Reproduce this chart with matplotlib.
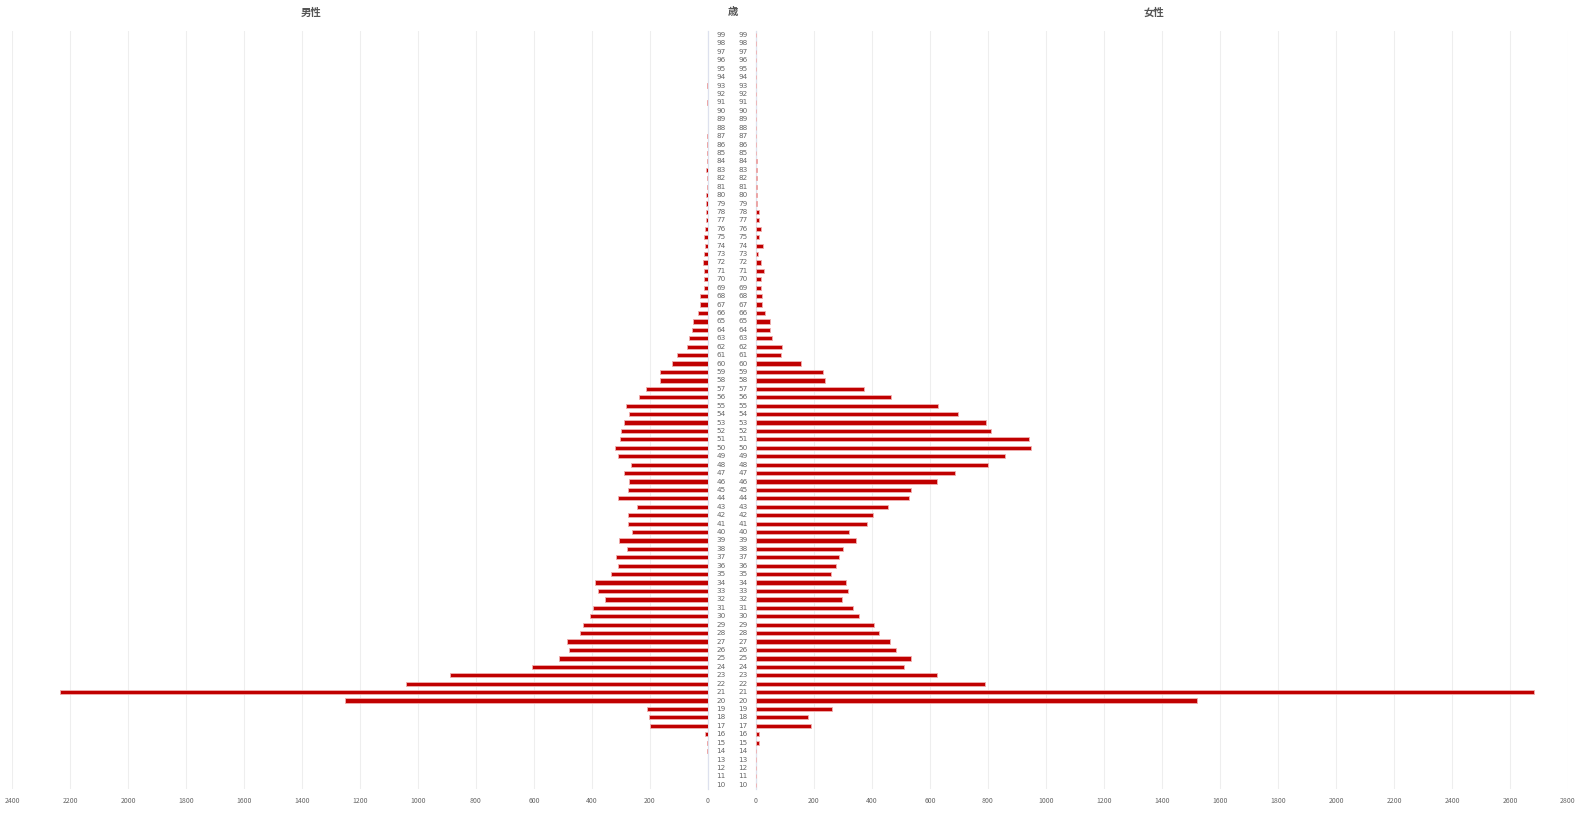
import matplotlib
matplotlib.use("Agg")
import matplotlib.pyplot as plt
import matplotlib.transforms as mtransforms
import numpy as np

plt.rcParams['font.family'] = ['Noto Sans CJK JP', 'DejaVu Sans']

ages = list(range(10, 100))

male = [0, 0, 0, 0, 4, 4, 12, 201, 205, 210,
        1250, 2233, 1040, 891, 607, 513, 479, 486, 442, 432,
        406, 397, 356, 380, 390, 334, 311, 317, 279, 307,
        261, 276, 276, 246, 310, 276, 274, 289, 264, 312,
        320, 305, 300, 291, 272, 282, 239, 214, 167, 167,
        125, 108, 74, 67, 54, 52, 36, 26, 29, 15,
        15, 14, 18, 14, 12, 15, 10, 8, 7, 8,
        7, 2, 5, 7, 3, 4, 3, 3, 0, 0,
        0, 2, 0, 2, 0, 0, 0, 0, 0, 0]

female = [1, 0, 0, 1, 1, 9, 11, 189, 178, 262,
          1521, 2683, 790, 625, 511, 533, 482, 462, 423, 406,
          356, 334, 297, 316, 309, 259, 276, 285, 300, 346,
          322, 384, 402, 456, 526, 536, 623, 687, 800, 859,
          949, 941, 811, 794, 695, 629, 465, 374, 238, 231,
          154, 87, 88, 56, 48, 49, 31, 20, 21, 16,
          16, 27, 16, 6, 23, 12, 16, 10, 9, 4,
          5, 3, 3, 5, 3, 1, 1, 1, 1, 0,
          0, 0, 0, 1, 0, 0, 0, 0, 0, 0]

left_ticks = list(range(0, 2401, 200))
right_ticks = list(range(0, 2801, 200))

title_male = "男性"
title_age = "歳"
title_female = "女性"

W, H = 1582, 817
fig = plt.figure(figsize=(W / 100, H / 100), dpi=100)
fig.patch.set_facecolor('white')

top_px, bot_px = 30.8, 789.0
ax_b = 1 - bot_px / H
ax_h = (bot_px - top_px) / H

axL = fig.add_axes([12 / W, ax_b, (708 - 12) / W, ax_h])
axR = fig.add_axes([756 / W, ax_b, (1568 - 756) / W, ax_h])

bar_color = '#c00000'
edge_color = '#f0b0b0'

for ax, vals, ticks, lim in ((axL, male, left_ticks, (2400, 0)),
                              (axR, female, right_ticks, (0, 2800))):
    ax.barh(ages, vals, height=0.5, color=bar_color, edgecolor=edge_color,
            linewidth=0.6, zorder=3)
    ax.set_xlim(*lim)
    ax.set_ylim(9.5, 99.5)
    ax.set_xticks(ticks)
    ax.set_xticklabels([str(t) for t in ticks])
    ax.tick_params(axis='x', length=0, pad=5.5, labelsize=5, labelcolor='#666666')
    ax.set_yticks([])
    ax.grid(axis='x', color='#eeeeee', linewidth=0.8, zorder=0)
    ax.set_axisbelow(True)
    for s in ax.spines.values():
        s.set_visible(False)

axL.spines['right'].set_visible(True)
axL.spines['right'].set_color('#dde1ee')
axL.spines['right'].set_linewidth(0.9)
axR.spines['left'].set_visible(True)
axR.spines['left'].set_color('#dde1ee')
axR.spines['left'].set_linewidth(0.9)

trans = mtransforms.blended_transform_factory(fig.transFigure, axL.transData)
for a in ages:
    for xp in (721, 743):
        fig.text(xp / W, a, str(a), transform=trans, ha='center', va='center',
                 fontsize=5.2, color='#666666', family=['DejaVu Sans'])

for txt, xp in ((title_male, 311), (title_age, 733), (title_female, 1154)):
    fig.text(xp / W, 1 - 12.5 / H, txt, ha='center', va='center', fontsize=7.5,
             fontweight='bold', color='#555555')

fig.savefig('out.png', dpi=100, facecolor='white')
